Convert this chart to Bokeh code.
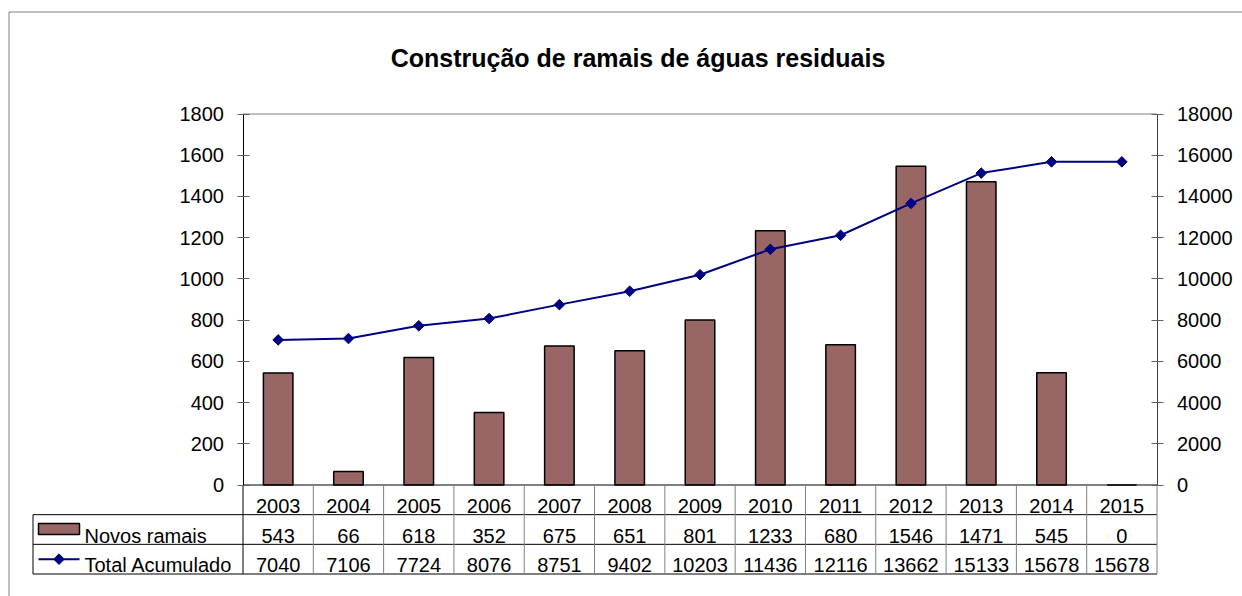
import math
from bokeh.plotting import figure
from bokeh.models import Range1d, LinearAxis, FixedTicker
from bokeh.embed import file_html
from bokeh.resources import INLINE
from bokeh.core.properties import value

# ---------------- data ----------------
years = ["2003", "2004", "2005", "2006", "2007", "2008", "2009",
         "2010", "2011", "2012", "2013", "2014", "2015"]
novos_ramais = [543, 66, 618, 352, 675, 651, 801, 1233, 680, 1546, 1471, 545, 0]
total_acumulado = [7040, 7106, 7724, 8076, 8751, 9402, 10203, 11436, 12116,
                   13662, 15133, 15678, 15678]
left_ticks = [0, 200, 400, 600, 800, 1000, 1200, 1400, 1600, 1800]
right_ticks = [0, 2000, 4000, 6000, 8000, 10000, 12000, 14000, 16000, 18000]
series_names = ["Novos ramais", "Total Acumulado"]
title_text = "Construção de ramais de águas residuais"

# ---------------- layout (page pixels) ----------------
W, H = 1242, 596
OX, OY = 0, 0
PX_LEFT, PX_RIGHT = 242.5, 1156.5
PY_ZERO, PY_TOP = 484.5, 113.5
PY_TABLE_BOTTOM = 573.5
PX_TABLE_LEFT = 32.5
LEFT_MAX = left_ticks[-1]
RIGHT_MAX = right_ticks[-1]
FONT = "Liberation Sans"
FS = "20px"
BAR_COLOR = "#996666"
LINE_COLOR = "#000080"

n = len(years)
n_rows = 3
col_w = (PX_RIGHT - PX_LEFT) / n
row_h = (PY_TABLE_BOTTOM - PY_ZERO) / n_rows
ppu = (PY_ZERO - PY_TOP) / LEFT_MAX


def col(px):
    return (px - PX_LEFT) / col_w


def row(py):
    return (py - PY_ZERO) / row_h


x_range = Range1d(col(OX), col(OX + W))
y_range = Range1d((PY_ZERO - (OY + H)) / ppu, (PY_ZERO - OY) / ppu)

p = figure(width=W, height=H, x_range=x_range, y_range=y_range,
           x_axis_location=None, y_axis_location=None,
           toolbar_location=None, output_backend="svg", title=None,
           min_border=0, outline_line_color=None,
           background_fill_color="white", border_fill_color="white")
p.extra_y_ranges = {
    "right": Range1d(y_range.start * RIGHT_MAX / LEFT_MAX, y_range.end * RIGHT_MAX / LEFT_MAX),
    "tbl": Range1d(row(OY + H), row(OY)),
}
p.xgrid.visible = False
p.ygrid.visible = False

xs = [i + 0.5 for i in range(n)]

# chart outer border (top and left visible)
p.segment(x0=[col(8.5), col(8.5)], y0=[row(11.5), row(11.5)],
          x1=[col(OX + W), col(8.5)], y1=[row(11.5), row(OY + H)],
          y_range_name="tbl", line_color="#808080", line_width=1)

# plot area top border
p.segment(x0=[0], y0=[row(PY_TOP)], x1=[n], y1=[row(PY_TOP)],
          y_range_name="tbl", line_color="#808080", line_width=1)

# bars
p.vbar(x=xs, top=novos_ramais, bottom=0, width=0.42,
       fill_color=BAR_COLOR, line_color="black", line_width=1.5)

# cumulative line
p.line(x=xs, y=total_acumulado, y_range_name="right",
       line_color=LINE_COLOR, line_width=2)
p.scatter(x=xs, y=total_acumulado, y_range_name="right", marker="square",
          angle=math.pi / 4, size=7.5, fill_color=LINE_COLOR, line_color=LINE_COLOR)

# data table grid
p.segment(x0=[0] + [col(PX_TABLE_LEFT)] * n_rows, y0=list(range(n_rows + 1)),
          x1=[n] * (n_rows + 1), y1=list(range(n_rows + 1)),
          y_range_name="tbl", line_color="black", line_width=1)
p.segment(x0=list(range(1, n + 1)), y0=[0] * n, x1=list(range(1, n + 1)), y1=[n_rows] * n,
          y_range_name="tbl", line_color="#808080", line_width=1)
p.segment(x0=[0, col(PX_TABLE_LEFT)], y0=[0, 1], x1=[0, col(PX_TABLE_LEFT)], y1=[n_rows, n_rows],
          y_range_name="tbl", line_color="black", line_width=1)

# table texts
base_off = 6.2 / row_h
text_kw = dict(y_range_name="tbl", text_font=value(FONT), text_font_size=FS,
               text_color="black", text_baseline="alphabetic")
p.text(x=xs, y=[0.5 + base_off] * n, text=years, text_align="center", **text_kw)
p.text(x=xs, y=[1.5 + base_off] * n, text=[str(v) for v in novos_ramais],
       text_align="center", **text_kw)
p.text(x=xs, y=[2.5 + base_off] * n, text=[str(v) for v in total_acumulado],
       text_align="center", **text_kw)

# legend keys in the table
p.quad(left=[col(38)], right=[col(79)], top=[row(523)], bottom=[row(534)],
       y_range_name="tbl", fill_color=BAR_COLOR, line_color="black", line_width=1.5)
p.segment(x0=[col(38)], y0=[2.5], x1=[col(79)], y1=[2.5], y_range_name="tbl",
          line_color=LINE_COLOR, line_width=2)
p.scatter(x=[col(58.5)], y=[2.5], y_range_name="tbl", marker="square",
          angle=math.pi / 4, size=7.5, fill_color=LINE_COLOR, line_color=LINE_COLOR)
p.text(x=[col(84)] * 2, y=[1.5 + base_off, 2.5 + base_off], text=series_names,
       text_align="left", **text_kw)

# title
p.text(x=[col(637.5)], y=[row(57)], text=[title_text], y_range_name="tbl",
       text_font=value(FONT), text_font_size="25px", text_font_style="bold",
       text_color="black", text_align="center", text_baseline="alphabetic")

# axes
left_axis = LinearAxis(fixed_location=0, bounds=(0, LEFT_MAX),
                       ticker=FixedTicker(ticks=left_ticks, minor_ticks=[]))
right_axis = LinearAxis(fixed_location=n, bounds=(0, RIGHT_MAX), y_range_name="right",
                        ticker=FixedTicker(ticks=right_ticks, minor_ticks=[]))
for ax, lc, so in ((left_axis, "black", 13), (right_axis, "#404040", 14)):
    ax.axis_line_color = lc
    ax.axis_line_width = 1
    ax.major_tick_in = 6
    ax.major_tick_out = 6
    ax.major_tick_line_color = "#606060"
    ax.minor_tick_line_color = None
    ax.major_label_text_font = FONT
    ax.major_label_text_font_size = FS
    ax.major_label_text_color = "black"
    ax.major_label_standoff = so
p.add_layout(left_axis, "left")
p.add_layout(right_axis, "right")

open("out.html", "w").write(file_html(p, INLINE))
